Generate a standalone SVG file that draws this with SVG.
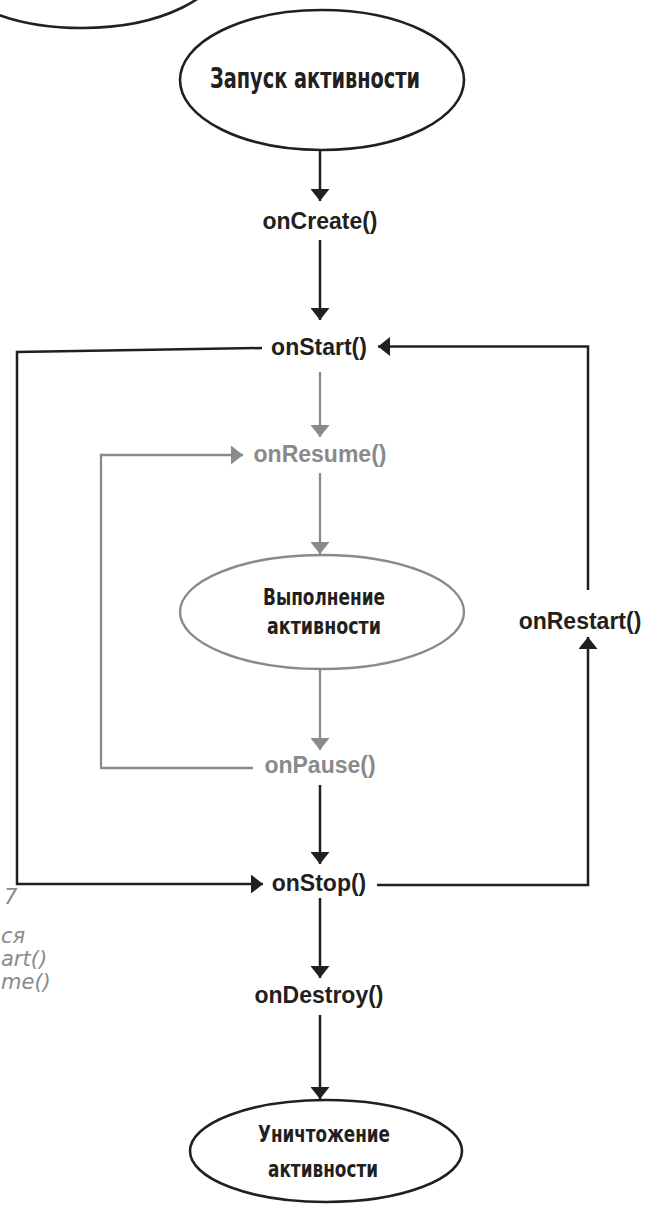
<svg xmlns="http://www.w3.org/2000/svg" width="663" height="1205" viewBox="0 0 663 1205">
<style>
.blk{stroke:#231f20;stroke-width:2.5;fill:none}
.gry{stroke:#8a8a8a;stroke-width:2.3;fill:none}
.ell{fill:#ffffff;stroke:#231f20;stroke-width:2.6}
.ellg{fill:#ffffff;stroke:#8a8a8a;stroke-width:2.4}
.lbl{font-family:"Liberation Sans",Arial,sans-serif;font-weight:bold;font-size:23px;text-anchor:middle;fill:#231f20}
.lblg{font-family:"Liberation Sans",Arial,sans-serif;font-weight:bold;font-size:23px;text-anchor:middle;fill:#8a8a8a}
.hand{font-family:"DejaVu Sans Condensed","DejaVu Sans",sans-serif;font-weight:bold;text-anchor:middle;fill:#231f20}
.note{font-family:"DejaVu Sans","Noto Sans",sans-serif;font-style:italic;font-size:21px;fill:#8a8a8a}
</style>
<defs>
<marker id="ab" viewBox="0 0 12 19" refX="12" refY="9.5" markerWidth="12" markerHeight="19" markerUnits="userSpaceOnUse" orient="auto">
<path d="M0,0 L12,9.5 L0,19 z" fill="#231f20"/>
</marker>
<marker id="ag" viewBox="0 0 12 19" refX="12" refY="9.5" markerWidth="12" markerHeight="19" markerUnits="userSpaceOnUse" orient="auto">
<path d="M0,0 L12,9.5 L0,19 z" fill="#8a8a8a"/>
</marker>
</defs>
<rect width="663" height="1205" fill="#ffffff"/>

<g id="callout-top">
<ellipse class="ell" cx="82" cy="-42" rx="142" ry="70"/>
</g>

<g id="connectors">
<path class="blk" d="M320,150 L320,201" marker-end="url(#ab)"/>
<path class="blk" d="M320,240 L320,320" marker-end="url(#ab)"/>
<path class="blk" d="M262,348 L17,352 L17,884 L263,884" marker-end="url(#ab)"/>
<path class="blk" d="M377,885 L588,885 L588,637" marker-end="url(#ab)"/>
<path class="blk" d="M588,590 L588,346.5 L378,346.5" marker-end="url(#ab)"/>
<path class="gry" d="M320,372 L320,437" marker-end="url(#ag)"/>
<path class="gry" d="M253,768 L101,768 L101,455 L243,455" marker-end="url(#ag)"/>
<path class="gry" d="M320,473 L320,554" marker-end="url(#ag)"/>
<path class="gry" d="M320,669 L320,750" marker-end="url(#ag)"/>
<path class="blk" d="M320,785 L320,864" marker-end="url(#ab)"/>
<path class="blk" d="M320,898 L320,978" marker-end="url(#ab)"/>
<path class="blk" d="M320,1015 L320,1099" marker-end="url(#ab)"/>
</g>

<g id="start">
<ellipse class="ell" cx="322" cy="80" rx="142" ry="70"/>
<text class="hand" x="315" y="88" font-size="28" textLength="210" lengthAdjust="spacingAndGlyphs">Запуск активности</text>
</g>

<g id="onCreate"><text class="lbl" x="320" y="229">onCreate()</text></g>
<g id="onStart"><text class="lbl" x="319" y="355">onStart()</text></g>
<g id="onResume"><text class="lblg" x="320" y="462">onResume()</text></g>

<g id="running">
<ellipse class="ellg" cx="322" cy="612" rx="142" ry="57"/>
<text class="hand" x="324" y="605" font-size="23" textLength="122" lengthAdjust="spacingAndGlyphs">Выполнение</text>
<text class="hand" x="324" y="634" font-size="23" textLength="114" lengthAdjust="spacingAndGlyphs">активности</text>
</g>

<g id="onRestart"><text class="lbl" x="580" y="629">onRestart()</text></g>
<g id="onPause"><text class="lblg" x="320" y="773">onPause()</text></g>
<g id="onStop"><text class="lbl" x="319" y="891">onStop()</text></g>
<g id="onDestroy"><text class="lbl" x="319" y="1003">onDestroy()</text></g>

<g id="destroy">
<ellipse class="ell" cx="326" cy="1151" rx="136" ry="51"/>
<text class="hand" x="324" y="1142" font-size="23" textLength="132" lengthAdjust="spacingAndGlyphs">Уничтожение</text>
<text class="hand" x="323" y="1177" font-size="23" textLength="110" lengthAdjust="spacingAndGlyphs">активности</text>
</g>

<g id="side-note">
<text class="note" x="4" y="904">7</text>
<text class="note" x="1" y="943">ся</text>
<text class="note" x="1" y="966">art()</text>
<text class="note" x="1" y="989">me()</text>
</g>
</svg>
